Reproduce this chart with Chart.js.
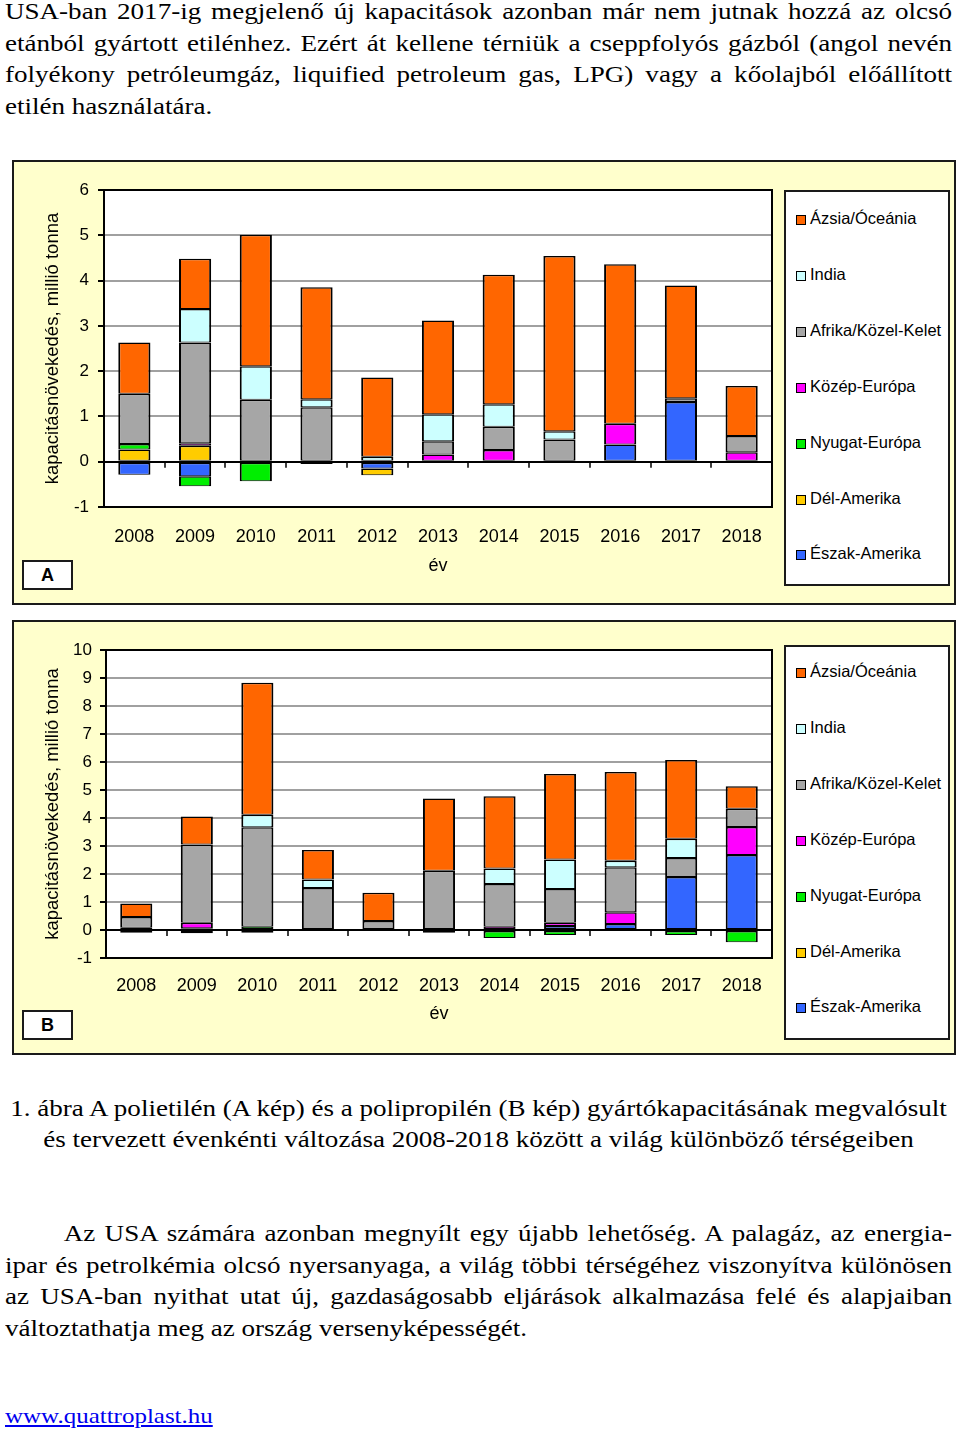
<!DOCTYPE html>
<html>
<head>
<meta charset="utf-8">
<script src="https://cdn.jsdelivr.net/npm/chart.js@4.4.1/dist/chart.umd.min.js"></script>
<style>
body{margin:0;background:#fff;}
#page{position:relative;width:960px;height:1438px;overflow:hidden;font-family:"Liberation Serif","Times New Roman",serif;font-size:23.5px;color:#000;}
.txt{position:absolute;left:5px;width:822.8px;line-height:31.5px;transform:scaleX(1.151);transform-origin:0 0;}
.j{text-align:justify;text-align-last:justify;}
.c{text-align:center;white-space:nowrap;}
.box{position:absolute;left:12px;width:940px;border:2px solid #1a1a1a;background:#ffffcc;}
.box canvas{position:absolute;left:0;top:0;}
.legend{position:absolute;left:784px;width:162px;border:2px solid #1a1a1a;background:#fff;font-family:"Liberation Sans",Arial,sans-serif;font-size:16.5px;}
.legend .it{position:absolute;left:10px;height:20px;line-height:20px;white-space:nowrap;}
.legend .sq{display:inline-block;width:8px;height:8px;border:1.5px solid #000;margin-right:4px;vertical-align:-1px;}
.tag{position:absolute;left:22px;width:47px;height:26px;border:2px solid #1a1a1a;background:#fff;font:bold 18px "Liberation Sans",Arial,sans-serif;text-align:center;line-height:26px;}
a{color:#0000ee;}
</style>
</head>
<body>
<div id="page">
  <div class="txt" style="top:-4px">
    <div class="j">USA-ban 2017-ig megjelenő új kapacitások azonban már nem jutnak hozzá az olcsó</div>
    <div class="j">etánból gyártott etilénhez. Ezért át kellene térniük a cseppfolyós gázból (angol nevén</div>
    <div class="j">folyékony petróleumgáz, liquified petroleum gas, LPG) vagy a kőolajból előállított</div>
    <div>etilén használatára.</div>
  </div>

  <div class="box" style="top:160px;height:441px"><canvas id="chartA" width="940" height="441"></canvas></div>
  <div class="legend" id="legA" style="top:190px;height:392px"></div>
  <div class="tag" style="top:560px">A</div>

  <div class="box" style="top:620px;height:431px"><canvas id="chartB" width="940" height="431"></canvas></div>
  <div class="legend" id="legB" style="top:645px;height:391px"></div>
  <div class="tag" style="top:1010px">B</div>

  <div class="txt" style="top:1093px;line-height:31px">
    <div class="c">1. ábra A polietilén (A kép) és a polipropilén (B kép) gyártókapacitásának megvalósult</div>
    <div class="c">és tervezett évenkénti változása 2008-2018 között a világ különböző térségeiben</div>
  </div>

  <div class="txt" style="top:1218px;line-height:31.7px">
    <div class="j" style="text-indent:51px">Az USA számára azonban megnyílt egy újabb lehetőség. A palagáz, az energia-</div>
    <div class="j">ipar és petrolkémia olcsó nyersanyaga, a világ többi térségéhez viszonyítva különösen</div>
    <div class="j">az USA-ban nyithat utat új, gazdaságosabb eljárások alkalmazása felé és alapjaiban</div>
    <div>változtathatja meg az ország versenyképességét.</div>
  </div>

  <div class="txt" style="top:1401px;font-size:21.7px"><a href="#">www.quattroplast.hu</a></div>
</div>

<script>
var years = ['2008', '2009', '2010', '2011', '2012', '2013', '2014', '2015', '2016', '2017', '2018'];
var regions = ['Észak-Amerika', 'Dél-Amerika', 'Nyugat-Európa', 'Közép-Európa', 'Afrika/Közel-Kelet', 'India', 'Ázsia/Óceánia'];
var regionColors = ['#3366ff', '#ffcc00', '#00ee00', '#ff00ff', '#a6a6a6', '#ccffff', '#ff6600'];

// A: polietilén, millió tonna
var peEszak  = [-0.29, -0.32, null, null, -0.15, null, null, null, 0.38, 1.32, null];
var peDel    = [0.27, 0.35, null, null, -0.15, null, null, null, null, null, null];
var peNyugat = [0.12, -0.22, -0.43, -0.05, null, null, null, null, null, null, null];
var peKozep  = [null, 0.06, null, null, null, 0.16, 0.26, null, 0.46, null, 0.21];
var peAfrika = [1.11, 2.22, 1.37, 1.20, null, 0.29, 0.51, 0.49, null, 0.08, 0.36];
var peIndia  = [null, 0.74, 0.74, 0.18, 0.11, 0.60, 0.50, 0.18, null, null, null];
var peAzsia  = [1.13, 1.11, 2.90, 2.47, 1.75, 2.07, 2.86, 3.87, 3.52, 2.49, 1.10];

// B: polipropilén, millió tonna
var ppEszak  = [-0.10, -0.12, null, null, null, null, null, 0.14, 0.21, 1.89, 2.68];
var ppDel    = [null, null, null, null, null, null, null, null, null, null, null];
var ppNyugat = [0.08, 0.06, 0.12, -0.04, null, -0.10, -0.29, -0.18, null, -0.18, -0.44];
var ppKozep  = [null, 0.20, -0.10, null, null, null, 0.12, 0.12, 0.42, null, 1.00];
var ppAfrika = [0.38, 2.79, 3.55, 1.50, 0.32, 2.12, 1.52, 1.20, 1.61, 0.68, 0.65];
var ppIndia  = [null, null, 0.45, 0.30, null, null, 0.56, 1.06, 0.23, 0.69, null];
var ppAzsia  = [0.49, 1.00, 4.71, 1.06, 1.01, 2.58, 2.58, 3.05, 3.17, 2.81, 0.80];

var yTicksA = [-1, 6];
var yTicksB = [-1, 10];

var sansFont = '"Liberation Sans", Arial, sans-serif';

var frame = {
  id: 'frame',
  beforeDraw: function (chart) {
    var a = chart.chartArea, ctx = chart.ctx;
    ctx.save();
    ctx.fillStyle = '#fff';
    ctx.fillRect(a.left, a.top, a.right - a.left, a.bottom - a.top);
    ctx.restore();
  },
  afterDraw: function (chart) {
    var a = chart.chartArea, ctx = chart.ctx;
    var y0 = chart.scales.y.getPixelForValue(0);
    var n = chart.data.labels.length;
    var step = (a.right - a.left) / n;
    ctx.save();
    ctx.strokeStyle = '#000';
    ctx.lineWidth = 2;
    ctx.strokeRect(a.left, a.top, a.right - a.left, a.bottom - a.top);
    ctx.lineWidth = 1.5;
    ctx.beginPath();
    for (var i = 1; i < n; i++) {
      var px = Math.round(a.left + i * step);
      ctx.moveTo(px, y0);
      ctx.lineTo(px, y0 + 6);
    }
    ctx.stroke();
    ctx.restore();
  }
};

function makeChart(id, series, range, lay) {
  var sets = [];
  for (var i = 0; i < regions.length; i++) {
    sets.push({
      label: regions[i],
      data: series[i],
      backgroundColor: regionColors[i],
      borderColor: '#000',
      borderWidth: {top: 1.5, bottom: 1, left: 2, right: 2},
      borderSkipped: false,
      barPercentage: 0.53,
      categoryPercentage: 1
    });
  }
  return new Chart(document.getElementById(id), {
    type: 'bar',
    data: {labels: years, datasets: sets},
    options: {
      responsive: false,
      animation: false,
      layout: {padding: {top: 28, right: 182, left: 0, bottom: 0}},
      plugins: {legend: {display: false}, tooltip: {enabled: false}},
      scales: {
        x: {
          stacked: true,
          grid: {display: false},
          border: {display: false},
          ticks: {color: '#000', font: {family: sansFont, size: 18}, padding: lay.xPad},
          title: {display: true, text: 'év', color: '#000', font: {family: sansFont, size: 18}, padding: {top: 0, bottom: lay.xTitlePad}},
          afterFit: function (s) { s.height = lay.xH; }
        },
        y: {
          stacked: true,
          min: range[0],
          max: range[1],
          ticks: {stepSize: 1, color: '#000', font: {family: sansFont, size: 17}, padding: lay.yPad},
          grid: {
            color: function (c) { return c.tick && c.tick.value === 0 ? '#000' : '#a0a0a0'; },
            lineWidth: 2,
            tickColor: '#000',
            tickLength: 6
          },
          border: {display: true, color: '#000', width: 2},
          title: {display: true, text: 'kapacitásnövekedés, millió tonna', color: '#000', font: {family: sansFont, size: 18.5}, padding: {top: 28, bottom: 0}},
          afterFit: function (s) { s.width = lay.yW; }
        }
      }
    },
    plugins: [frame]
  });
}

function makeLegend(id, firstTop) {
  var box = document.getElementById(id);
  for (var i = regions.length - 1, k = 0; i >= 0; i--, k++) {
    var it = document.createElement('div');
    it.className = 'it';
    it.style.top = (firstTop + k * 55.9) + 'px';
    var sq = document.createElement('span');
    sq.className = 'sq';
    sq.style.background = regionColors[i];
    it.appendChild(sq);
    it.appendChild(document.createTextNode(regions[i]));
    box.appendChild(it);
  }
}

makeChart('chartA', [peEszak, peDel, peNyugat, peKozep, peAfrika, peIndia, peAzsia], yTicksA,
  {yW: 90, xH: 96, yPad: 9, xPad: 11, xTitlePad: 26});
makeChart('chartB', [ppEszak, ppDel, ppNyugat, ppKozep, ppAfrika, ppIndia, ppAzsia], yTicksB,
  {yW: 92, xH: 95, yPad: 8, xPad: 9, xTitlePad: 28});
makeLegend('legA', 16);
makeLegend('legB', 14);
</script>
</body>
</html>
